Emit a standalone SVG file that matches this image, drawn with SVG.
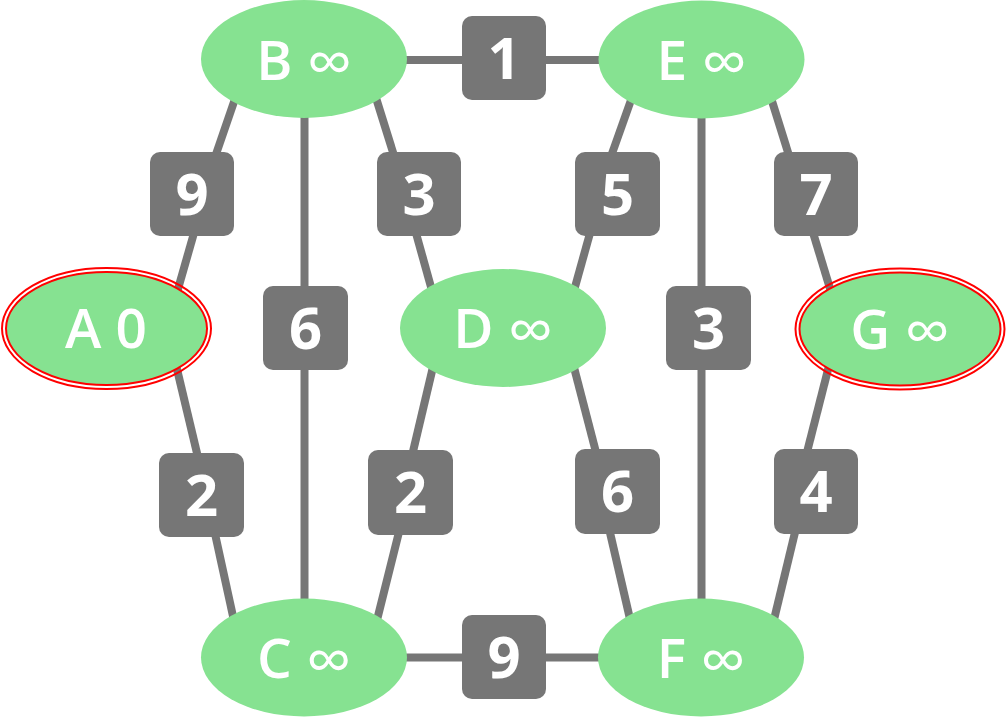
<svg xmlns="http://www.w3.org/2000/svg" width="1006" height="728" viewBox="0 0 1006 728">
<style>
.e{stroke:#767676;stroke-width:8;fill:none}
.n{fill:#86E291}
.r{fill:none;stroke:#FF0000;stroke-width:2}
.b{fill:#767676}
.t{font-family:"Open Sans","Noto Sans","DejaVu Sans",sans-serif;font-weight:bold;fill:#FFFFFF;text-anchor:middle}
.nt{font-size:55px;font-weight:600}
.lt{font-size:58px}
.inf{font-weight:normal;font-size:64px}
</style>
<rect width="1006" height="728" fill="#FFFFFF"/>
<g id="connectors">
<line class="e" x1="380" y1="60" x2="626" y2="60"/>
<line class="e" x1="380" y1="657.5" x2="626" y2="657.5"/>
<line class="e" x1="304.5" y1="80" x2="304.5" y2="630"/>
<line class="e" x1="701.5" y1="80" x2="701.5" y2="630"/>
<line class="e" x1="172" y1="310" x2="196" y2="226"/>
<line class="e" x1="214" y1="160" x2="236" y2="96"/>
<line class="e" x1="176" y1="365" x2="201" y2="470"/>
<line class="e" x1="212" y1="520" x2="236" y2="630"/>
<line class="e" x1="372" y1="85" x2="396" y2="162"/>
<line class="e" x1="414" y1="226" x2="436" y2="305"/>
<line class="e" x1="636" y1="86" x2="609" y2="162"/>
<line class="e" x1="592" y1="226" x2="570" y2="305"/>
<line class="e" x1="767" y1="85" x2="791" y2="162"/>
<line class="e" x1="811" y1="226" x2="835" y2="305"/>
<line class="e" x1="833" y1="350" x2="805" y2="460"/>
<line class="e" x1="797" y1="524" x2="771" y2="632"/>
<line class="e" x1="570" y1="352" x2="598" y2="460"/>
<line class="e" x1="608" y1="524" x2="633" y2="632"/>
<line class="e" x1="437" y1="350" x2="411" y2="460"/>
<line class="e" x1="401" y1="524" x2="374" y2="632"/>
</g>
<g id="label-BE"><rect class="b" x="462" y="16" width="84" height="84" rx="10"/><text class="t lt" x="504" y="79">1</text></g>
<g id="label-AB"><rect class="b" x="150" y="152" width="84" height="84" rx="10"/><text class="t lt" x="192" y="215">9</text></g>
<g id="label-BD"><rect class="b" x="377" y="152" width="84" height="84" rx="10"/><text class="t lt" x="419" y="215">3</text></g>
<g id="label-DE"><rect class="b" x="575" y="152" width="85" height="84" rx="10"/><text class="t lt" x="617.5" y="215">5</text></g>
<g id="label-EG"><rect class="b" x="774" y="152" width="84" height="84" rx="10"/><text class="t lt" x="816" y="215">7</text></g>
<g id="label-BC"><rect class="b" x="263" y="286" width="85" height="84" rx="10"/><text class="t lt" x="305.5" y="349">6</text></g>
<g id="label-EF"><rect class="b" x="666" y="286" width="85" height="84" rx="10"/><text class="t lt" x="708.5" y="349">3</text></g>
<g id="label-AC"><rect class="b" x="159" y="453" width="85" height="84" rx="10"/><text class="t lt" x="201.5" y="516">2</text></g>
<g id="label-CD"><rect class="b" x="368" y="450" width="85" height="85" rx="10"/><text class="t lt" x="410.5" y="513">2</text></g>
<g id="label-DF"><rect class="b" x="575" y="449" width="85" height="85" rx="10"/><text class="t lt" x="617.5" y="512">6</text></g>
<g id="label-FG"><rect class="b" x="774" y="449" width="84" height="85" rx="10"/><text class="t lt" x="816" y="512">4</text></g>
<g id="label-CF"><rect class="b" x="462" y="615" width="84" height="84" rx="10"/><text class="t lt" x="504" y="678">9</text></g>
<g id="node-A"><ellipse class="r" cx="106.5" cy="328.5" rx="104.5" ry="60.5"/><ellipse class="n" cx="106.5" cy="328.5" rx="100.5" ry="56.5" stroke="#FF0000" stroke-width="2"/><text class="t nt" x="106" y="348">A 0</text></g>
<g id="node-B"><ellipse class="n" cx="304" cy="59" rx="103" ry="59"/><text class="t nt" x="304" y="80">B <tspan class="inf" dy="5">∞</tspan></text></g>
<g id="node-C"><ellipse class="n" cx="304" cy="657.5" rx="103" ry="59"/><text class="t nt" x="304" y="678">C <tspan class="inf" dy="5">∞</tspan></text></g>
<g id="node-D"><ellipse class="n" cx="503" cy="328" rx="103" ry="59"/><text class="t nt" x="503" y="348">D <tspan class="inf" dy="5">∞</tspan></text></g>
<g id="node-E"><ellipse class="n" cx="701.5" cy="59.5" rx="103" ry="59"/><text class="t nt" x="701.5" y="80">E <tspan class="inf" dy="5">∞</tspan></text></g>
<g id="node-F"><ellipse class="n" cx="701" cy="657.5" rx="103" ry="59"/><text class="t nt" x="701" y="678">F <tspan class="inf" dy="5">∞</tspan></text></g>
<g id="node-G"><ellipse class="r" cx="900" cy="329" rx="104.5" ry="60.5"/><ellipse class="n" cx="900" cy="329" rx="100.5" ry="56.5" stroke="#FF0000" stroke-width="2"/><text class="t nt" x="900" y="349">G <tspan class="inf" dy="5">∞</tspan></text></g>
</svg>
